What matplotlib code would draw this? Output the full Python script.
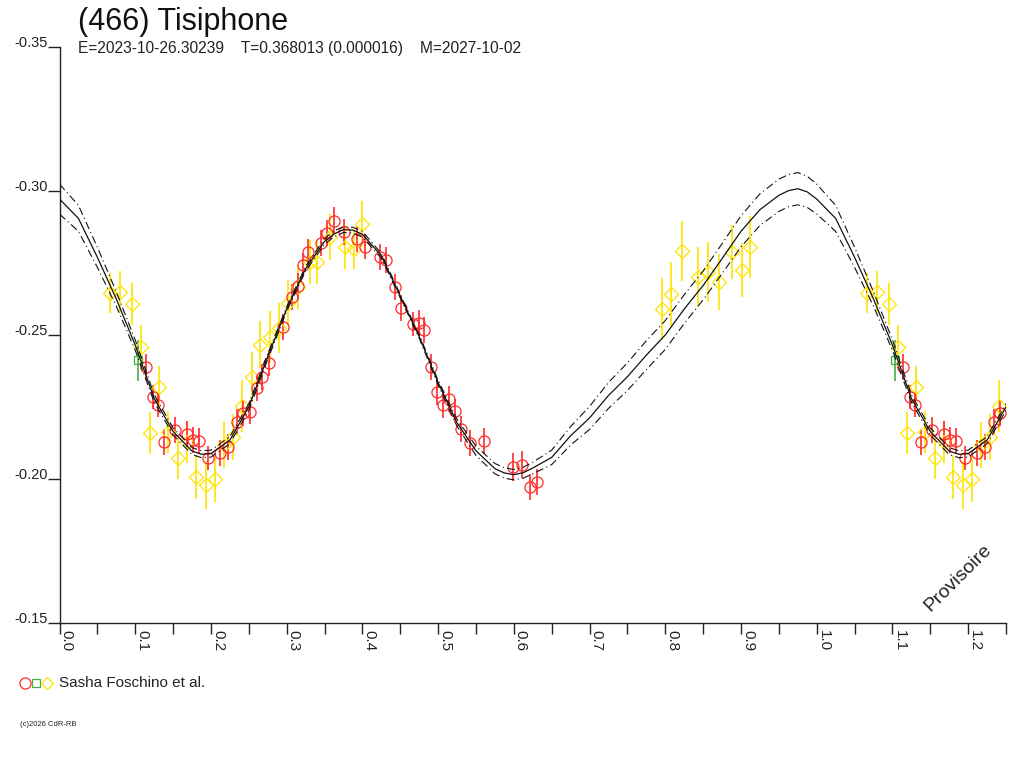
import matplotlib
matplotlib.use("Agg")
import matplotlib.pyplot as plt
import numpy as np
from matplotlib.ticker import MultipleLocator, FixedLocator

plt.rcParams['font.family'] = ['Liberation Sans', 'DejaVu Sans']

# fitted lightcurve (extra samples near the extrema)
fit_phase = [0.000, 0.025, 0.050, 0.075, 0.100, 0.125, 0.150, 0.175, 0.1875, 0.200,
             0.225, 0.250, 0.275, 0.300, 0.325, 0.350, 0.3625, 0.375, 0.3875, 0.400,
             0.425, 0.450, 0.475, 0.500, 0.525, 0.550, 0.575, 0.5875, 0.600, 0.6125,
             0.625, 0.650, 0.675, 0.700, 0.725, 0.750, 0.775, 0.800, 0.825, 0.850,
             0.875, 0.900, 0.925, 0.950, 0.9625, 0.975, 0.9875, 1.000]
fit_mag = [-0.2972, -0.2905, -0.2770, -0.2625, -0.2465, -0.2280, -0.2165, -0.2097, -0.2086, -0.2088,
           -0.2135, -0.2250, -0.2425, -0.2590, -0.2730, -0.2825, -0.2851, -0.2866, -0.2864, -0.2850,
           -0.2775, -0.2635, -0.2495, -0.2335, -0.2195, -0.2098, -0.2036, -0.2021, -0.2015, -0.2022,
           -0.2038, -0.2075, -0.2150, -0.2212, -0.2290, -0.2355, -0.2430, -0.2500, -0.2590, -0.2672,
           -0.2765, -0.2860, -0.2935, -0.2985, -0.3001, -0.3008, -0.2997, -0.2972]
fit_band = [0.0052, 0.0045, 0.0035, 0.0025, 0.0018, 0.0013, 0.0012, 0.0012, 0.0012, 0.0012,
            0.0012, 0.0012, 0.0010, 0.0008, 0.0008, 0.0010, 0.0010, 0.0010, 0.0010, 0.0010,
            0.0008, 0.0006, 0.0006, 0.0008, 0.0012, 0.0016, 0.0018, 0.0018, 0.0018, 0.0019,
            0.0020, 0.0025, 0.0032, 0.0040, 0.0045, 0.0048, 0.0050, 0.0050, 0.0050, 0.0050,
            0.0052, 0.0054, 0.0055, 0.0056, 0.0056, 0.0056, 0.0054, 0.0052]

# red circles
red_phase = [0.1142, 0.1234, 0.1300, 0.1380, 0.1525, 0.1683, 0.1762, 0.1842, 0.1960, 0.2119,
             0.2224, 0.2343, 0.2422, 0.2515, 0.2607, 0.2673, 0.2766, 0.2951, 0.3069, 0.3149,
             0.3215, 0.3281, 0.3452, 0.3531, 0.3624, 0.3756, 0.3927, 0.4033, 0.4231, 0.4310,
             0.4429, 0.4508, 0.4667, 0.4746, 0.4812, 0.4904, 0.4983, 0.5063, 0.5142, 0.5221,
             0.5300, 0.5419, 0.5604, 0.5987, 0.6106, 0.6211, 0.6304]
red_mag = [-0.2389, -0.2285, -0.2257, -0.2128, -0.2170, -0.2156, -0.2135, -0.2132, -0.2073, -0.2090,
           -0.2111, -0.2198, -0.2229, -0.2233, -0.2316, -0.2354, -0.2403, -0.2528, -0.2632, -0.2670,
           -0.2743, -0.2788, -0.2819, -0.2854, -0.2896, -0.2858, -0.2833, -0.2806, -0.2771, -0.2760,
           -0.2667, -0.2594, -0.2538, -0.2542, -0.2517, -0.2389, -0.2302, -0.2257, -0.2278, -0.2236,
           -0.2174, -0.2125, -0.2132, -0.2042, -0.2049, -0.1972, -0.1990]
red_err = [0.0046, 0.0042, 0.0043, 0.0045, 0.0044, 0.0046, 0.0045, 0.0044, 0.0042, 0.0045,
           0.0046, 0.0045, 0.0044, 0.0043, 0.0045, 0.0046, 0.0044, 0.0045, 0.0046, 0.0044,
           0.0043, 0.0045, 0.0046, 0.0045, 0.0047, 0.0044, 0.0045, 0.0043, 0.0046, 0.0045,
           0.0044, 0.0045, 0.0043, 0.0044, 0.0046, 0.0045, 0.0044, 0.0046, 0.0045, 0.0043,
           0.0045, 0.0044, 0.0046, 0.0048, 0.0047, 0.0046, 0.0045]

# green square
green_phase = [0.1036]
green_mag = [-0.2413]
green_err = [0.0071]

# yellow diamonds
yel_phase = [0.0667, 0.0799, 0.0957, 0.1076, 0.1314, 0.1195, 0.1432, 0.1564, 0.1683, 0.1802,
             0.1934, 0.2053, 0.2172, 0.2290, 0.2409, 0.2541, 0.2654, 0.2779, 0.2898, 0.3017,
             0.3149, 0.3307, 0.3399, 0.3571, 0.3769, 0.3888, 0.3993, 0.7954, 0.8073, 0.8218,
             0.8429, 0.8561, 0.8706, 0.8878, 0.9010, 0.9116]
yel_mag = [-0.2646, -0.2649, -0.2608, -0.2458, -0.2319, -0.2160, -0.2163, -0.2073, -0.2128, -0.2007,
           -0.1979, -0.2000, -0.2118, -0.2146, -0.2253, -0.2354, -0.2467, -0.2493, -0.2524, -0.2611,
           -0.2667, -0.2753, -0.2753, -0.2840, -0.2806, -0.2799, -0.2885, -0.2590, -0.2642, -0.2792,
           -0.2701, -0.2719, -0.2684, -0.2788, -0.2726, -0.2806]
yel_err = [0.0071, 0.0073, 0.0073, 0.0075, 0.0073, 0.0073, 0.0073, 0.0073, 0.0073, 0.0076,
           0.0083, 0.0080, 0.0080, 0.0080, 0.0090, 0.0087, 0.0082, 0.0090, 0.0087, 0.0080,
           0.0076, 0.0076, 0.0076, 0.0080, 0.0076, 0.0069, 0.0080, 0.0108, 0.0111, 0.0104,
           0.0104, 0.0104, 0.0097, 0.0094, 0.0094, 0.0108]

title = "(466) Tisiphone"
subtitle = "E=2023-10-26.30239    T=0.368013 (0.000016)    M=2027-10-02"
observer = "Sasha Foschino et al."

RED = '#ff2a2a'
GREEN = '#44b044'
YELLOW = '#ffe400'


def wrap(ph, mag, err=None, upto=0.25):
    # the phase axis runs past 1.0, so repeat the start of the cycle
    ph = np.asarray(ph); mag = np.asarray(mag)
    sel = ph <= upto
    p = np.concatenate([ph, ph[sel] + 1.0])
    m = np.concatenate([mag, mag[sel]])
    if err is None:
        return p, m
    err = np.asarray(err)
    return p, m, np.concatenate([err, err[sel]])


fig = plt.figure(figsize=(10.24, 7.68), dpi=100)
ax = fig.add_axes([59.5 / 1024, 1 - 623 / 768, (1006 - 59.5) / 1024, 576 / 768])

fp, fm = wrap(fit_phase, fit_mag, upto=0.25)
fp2, fb = wrap(fit_phase, fit_band, upto=0.25)
order = np.argsort(fp, kind='stable')
fp, fm, fb = fp[order], fm[order], fb[order]
# drop the duplicated 1.0 sample
keep = np.concatenate([[True], np.diff(fp) > 1e-9])
fp, fm, fb = fp[keep], fm[keep], fb[keep]

for ph, mag, err, col, mk, ms in [
        (yel_phase, yel_mag, yel_err, YELLOW, 'D', 7.5),
        (red_phase, red_mag, red_err, RED, 'o', 8),
        (green_phase, green_mag, green_err, GREEN, 's', 6)]:
    p, m, e = wrap(ph, mag, err)
    ax.errorbar(p, m, yerr=e, fmt='none', ecolor=col, elinewidth=1.2, capsize=0, zorder=2)
    ax.plot(p, m, linestyle='none', marker=mk, markersize=ms, markerfacecolor='none',
            markeredgecolor=col, markeredgewidth=0.9, zorder=3)

ax.plot(fp, fm, color='#111111', lw=0.9, zorder=4)
ax.plot(fp, fm - fb, color='#111111', lw=0.8, dashes=(7, 3, 1, 3), zorder=4)
ax.plot(fp, fm + fb, color='#111111', lw=0.8, dashes=(7, 3, 1, 3), zorder=4)

ax.set_xlim(0, 1.25)
ax.set_ylim(-0.15, -0.35)

for s in ['top', 'right']:
    ax.spines[s].set_visible(False)
for s in ['left', 'bottom']:
    ax.spines[s].set_linewidth(1.0)
    ax.spines[s].set_color('#222222')

yt = [-0.35, -0.30, -0.25, -0.20, -0.15]
ax.set_yticks(yt)
ax.set_yticklabels(['%.2f' % v for v in yt])
ax.tick_params(axis='y', length=8.6, width=1.0, pad=0, labelsize=10.5, colors='#222222')
for lab in ax.get_yticklabels():
    lab.set_verticalalignment('baseline')

ax.xaxis.set_major_locator(MultipleLocator(0.1))
ax.xaxis.set_minor_locator(FixedLocator(np.arange(0.05, 1.26, 0.1)))
ax.tick_params(axis='x', which='both', length=8, width=1.0, colors='#222222')
ax.tick_params(axis='x', which='major', labelsize=11, pad=-3)
xt = np.arange(0, 1.21, 0.1)
ax.set_xticks(xt)
ax.set_xticklabels(['%.1f' % v for v in xt], rotation=270, ha='left', va='top')

fig.text(78 / 1024, 1 - 22 / 768, title, fontsize=22, va='center', ha='left', color='#111111')
fig.text(78 / 1024, 1 - 48 / 768, subtitle, fontsize=11.2, va='center', ha='left', color='#222222')
ax.text(0.949, 0.078, "Provisoire", transform=ax.transAxes, rotation=45, fontsize=14,
        ha='center', va='center', color='#222222')

# legend row and credit line
leg = fig.add_axes([0, 0, 1, 1], facecolor='none')
leg.set_xlim(0, 1024)
leg.set_ylim(768, 0)
leg.axis('off')
leg.plot([25], [683], marker='o', ms=8, mfc='none', mec=RED, mew=0.9)
leg.plot([36], [683], marker='s', ms=6, mfc='none', mec=GREEN, mew=0.9)
leg.plot([47], [683], marker='D', ms=6, mfc='none', mec=YELLOW, mew=0.9)
fig.text(59 / 1024, 1 - 683 / 768, observer, fontsize=11, va='center', ha='left', color='#222222')
fig.text(20 / 1024, 1 - 725 / 768, "(c)2026 CdR-RB", fontsize=5.5, va='center', ha='left', color='#222222')

plt.savefig('out.png', dpi=100)
